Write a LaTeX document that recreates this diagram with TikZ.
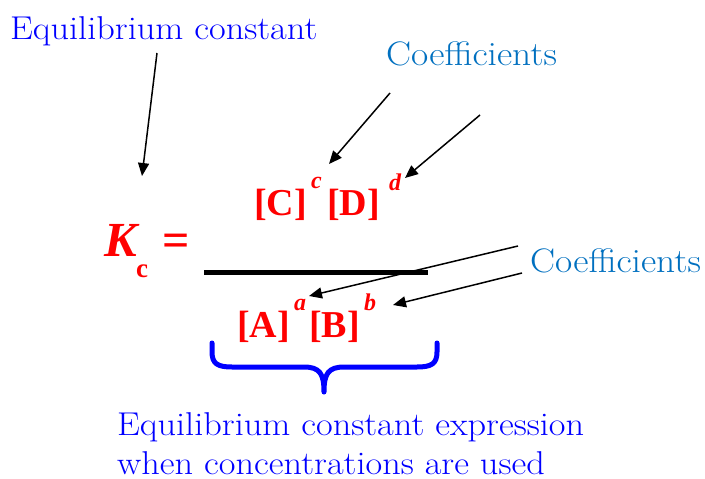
\documentclass[tikz,border=0pt]{standalone}
\usepackage{fontspec}
\newfontfamily\tnr{Liberation Serif}
\usetikzlibrary{arrows.meta}
\definecolor{coefblue}{RGB}{0,112,192}
\definecolor{labblue}{RGB}{0,0,255}
\definecolor{eqred}{RGB}{255,0,0}
\newcommand{\wide}[1]{\scalebox{1.1}[1]{#1}}
\tikzset{
  lab/.style={inner sep=0pt, anchor=base west, text=labblue, text depth=0pt, font=\fontsize{33}{40}\selectfont},
  coef/.style={inner sep=0pt, anchor=base west, text=coefblue, font=\fontsize{34}{40}\selectfont},
  big/.style={inner sep=0pt, anchor=base west, text=eqred, font=\tnr\bfseries\fontsize{38}{44}\selectfont},
  sup/.style={inner sep=0pt, anchor=base west, text=eqred, font=\tnr\bfseries\itshape\fontsize{24}{28}\selectfont},
  kfont/.style={inner sep=0pt, anchor=base west, text=eqred, font=\tnr\bfseries\itshape\fontsize{49}{54}\selectfont},
  eqfont/.style={inner sep=0pt, anchor=base west, text=eqred, font=\tnr\bfseries\fontsize{48}{54}\selectfont},
  subfont/.style={inner sep=0pt, anchor=base west, text=eqred, font=\tnr\bfseries\fontsize{27}{30}\selectfont},
  pointer/.style={draw=black, line width=1.5pt, -{Triangle[length=13pt,width=11pt]}},
}
\begin{document}
\begin{tikzpicture}[x=1pt,y=-1pt]
\useasboundingbox[fill=white] (0,0) rectangle (705,479);
% labels
\node[lab] (eqc) at (10,39) {\wide{Equilibrium constant}};
\node[coef] (coeftop) at (386,65) {\wide{Coefficients}};
\node[coef] (coefright) at (530,272) {\wide{Coefficients}};
\node[lab] (expr1) at (117,435) {\wide{Equilibrium constant expression}};
\node[lab] (expr2) at (117,474) {\wide{when concentrations are used}};
% K_c =
\node[kfont] (K) at (104,256) {K};
\node[subfont] (csub) at (136,277) {c};
\node[eqfont] (eq) at (162,256) {=};
% numerator
\node[big] (C) at (254,215) {[C]};
\node[sup] (csup) at (311,188) {c};
\node[big] (D) at (327,215) {[D]};
\node[sup] (dsup) at (389,190) {d};
% denominator
\node[big] (A) at (237,337) {[A]};
\node[sup] (asup) at (294,310) {a};
\node[big] (B) at (309,337) {[B]};
\node[sup] (bsup) at (364,310) {b};
% fraction bar
\coordinate (barL) at (204,272);
\coordinate (barR) at (428,272);
\draw[line width=5pt] (barL) -- (barR);
% arrows
\coordinate (s1) at (157,53);
\coordinate (t1) at (142,176);
\draw[pointer] (s1) -- (t1);
\coordinate (s2) at (390,93);
\coordinate (t2) at (329,164);
\draw[pointer] (s2) -- (t2);
\coordinate (s3) at (480,115);
\coordinate (t3) at (405,178);
\draw[pointer] (s3) -- (t3);
\coordinate (s4) at (518,246);
\coordinate (t4) at (309,296);
\draw[pointer] (s4) -- (t4);
\coordinate (s5) at (522,273);
\coordinate (t5) at (393,305);
\draw[pointer] (s5) -- (t5);
% brace
\draw[labblue, line width=5pt, line cap=round, line join=round]
  (212,343) -- (212,352) .. controls (212,364) and (218,367) .. (232,367)
  -- (304,367) .. controls (320,367) and (324,374) .. (324,392)
  .. controls (324,374) and (328,367) .. (344,367)
  -- (417,367) .. controls (431,367) and (437,364) .. (437,352) -- (437,343);
\end{tikzpicture}
\end{document}
